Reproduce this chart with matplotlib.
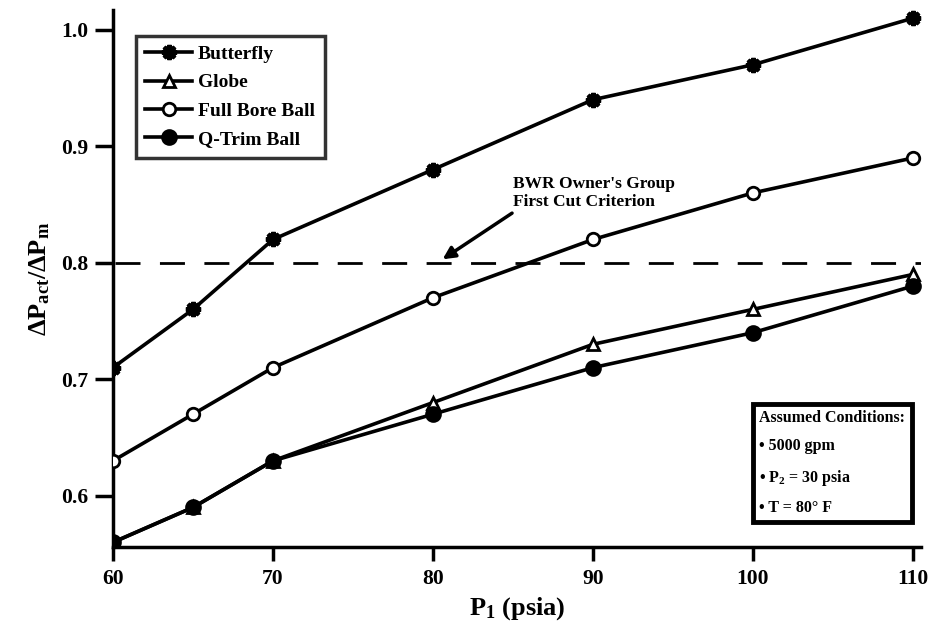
import matplotlib
matplotlib.use("Agg")
import matplotlib.pyplot as plt

plt.rcParams['font.family'] = ['Liberation Serif', 'DejaVu Serif']
plt.rcParams['font.weight'] = 'bold'
plt.rcParams['mathtext.fontset'] = 'custom'
plt.rcParams['mathtext.rm'] = 'Liberation Serif:bold'
plt.rcParams['mathtext.it'] = 'Liberation Serif:bold'
plt.rcParams['mathtext.bf'] = 'Liberation Serif:bold'

p1 = [60, 65, 70, 80, 90, 100, 110]
butterfly = [0.71, 0.76, 0.82, 0.88, 0.94, 0.97, 1.01]
globe = [0.56, 0.59, 0.63, 0.68, 0.73, 0.76, 0.79]
full_bore = [0.63, 0.67, 0.71, 0.77, 0.82, 0.86, 0.89]
q_trim = [0.56, 0.59, 0.63, 0.67, 0.71, 0.74, 0.78]
criterion = 0.8
x_ticks = [60, 70, 80, 90, 100, 110]
y_ticks = [0.6, 0.7, 0.8, 0.9, 1.0]

fig = plt.figure(figsize=(9.35, 6.41), dpi=100)
ax = fig.add_axes([113/935, 1-547/641, (921-113)/935, (547-10)/641])

lw = 2.6
ax.plot(p1, butterfly, color='black', lw=lw, marker=(8, 2, 0), ms=11, mew=3,
        label='Butterfly', zorder=3)
ax.plot(p1, globe, color='black', lw=lw, marker='^', ms=9, mfc='white', mew=2,
        label='Globe', zorder=3)
ax.plot(p1, full_bore, color='black', lw=lw, marker='o', ms=9, mfc='white', mew=2,
        label='Full Bore Ball', zorder=3)
ax.plot(p1, q_trim, color='black', lw=lw, marker='o', ms=10, mfc='black', mew=2,
        label='Q-Trim Ball', zorder=4)

ax.axhline(criterion, color='black', lw=2, dashes=(9, 7), xmin=0.003, zorder=2)

ax.annotate("BWR Owner's Group\nFirst Cut Criterion",
            xy=(80.6, 0.803), xytext=(85.0, 0.845),
            fontsize=12.5, fontweight='bold', ha='left', va='bottom',
            linespacing=1.2,
            arrowprops=dict(arrowstyle='-|>', color='black', lw=2.5,
                            mutation_scale=18, shrinkA=0, shrinkB=0,
                            relpos=(0.02, 0.0)))

ax.set_xlim(60, 110.5)
ax.set_ylim(0.556, 1.017)
ax.set_xticks(x_ticks)
ax.set_yticks(y_ticks)
ax.set_yticklabels(['0.6', '0.7', '0.8', '0.9', '1.0'])
ax.tick_params(axis='both', labelsize=15.5, width=2.5, direction='out')
ax.tick_params(axis='y', length=13, pad=5)
ax.tick_params(axis='x', length=10, pad=6)
for lab in ax.get_xticklabels() + ax.get_yticklabels():
    lab.set_fontweight('bold')

for s in ['top', 'right']:
    ax.spines[s].set_visible(False)
for s in ['left', 'bottom']:
    ax.spines[s].set_linewidth(2.5)

ax.set_xlabel(r'P$_1$ (psia)', fontsize=19, fontweight='bold', labelpad=4)
ax.set_ylabel(r'$\Delta$P$_{act}$/$\Delta$P$_m$', fontsize=19, fontweight='bold', labelpad=6)

leg = ax.legend(loc='upper left', bbox_to_anchor=(0.028, 0.952), fontsize=14,
                frameon=True, fancybox=False, edgecolor='black', handlelength=2.4,
                handletextpad=0.3, borderpad=0.5, labelspacing=0.55,
                borderaxespad=0, markerscale=1.0)
leg.get_frame().set_linewidth(2.5)
for t in leg.get_texts():
    t.set_fontweight('bold')

ax.text(0.8, 0.255,
        "Assumed Conditions:\n\u2022 5000 gpm\n\u2022 P$_2$ = 30 psia\n\u2022 T = 80\u00b0 F",
        transform=ax.transAxes, fontsize=11.5, fontweight='bold', ha='left', va='top',
        linespacing=2.0,
        bbox=dict(boxstyle='square,pad=0.4', fc='white', ec='black', lw=3.5))

fig.savefig('out.png', dpi=100)
